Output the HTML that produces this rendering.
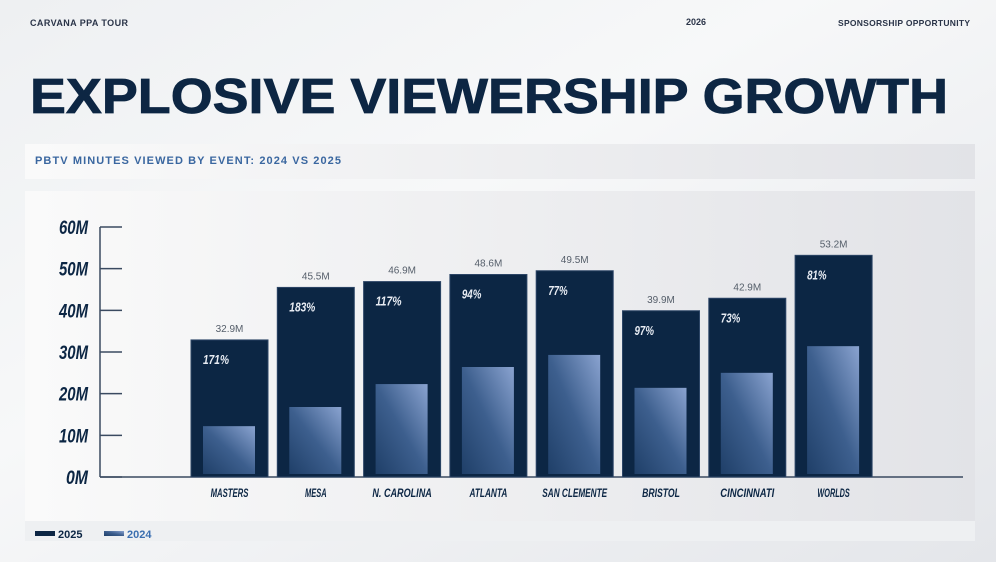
<!DOCTYPE html>
<html><head><meta charset="utf-8"><style>
html,body{margin:0;padding:0;width:996px;height:562px;overflow:hidden;background:#eceef1}
svg{display:block}
text{font-family:"Liberation Sans",sans-serif}
</style></head><body>
<svg id="chart" width="996" height="562" viewBox="0 0 996 562">
<defs>
<linearGradient id="bg" x1="0" y1="0" x2="1" y2="1">
<stop offset="0" stop-color="#eef0f2"/><stop offset="0.4" stop-color="#f7f8f9"/><stop offset="1" stop-color="#e4e6ea"/></linearGradient>
<linearGradient id="g24" x1="0" y1="1" x2="1" y2="0">
<stop offset="0" stop-color="#1f3f68"/><stop offset="0.5" stop-color="#3d5f8e"/><stop offset="1" stop-color="#8aa3d0"/></linearGradient>
<linearGradient id="panel" x1="0" y1="0" x2="1" y2="0">
<stop offset="0" stop-color="#fafafa"/><stop offset="1" stop-color="#e2e3e7"/></linearGradient>
</defs>
<rect width="996" height="562" fill="url(#bg)"/>
<text x="30" y="26" font-size="9" font-weight="bold" fill="#2a3448" textLength="98">CARVANA PPA TOUR</text>
<text x="686" y="25" font-size="9" font-weight="bold" fill="#2a3448">2026</text>
<text x="838" y="26" font-size="8.5" font-weight="bold" fill="#2a3448" textLength="132">SPONSORSHIP OPPORTUNITY</text>
<text x="30" y="113" font-size="49" font-weight="bold" fill="#0d2643" stroke="#0d2643" stroke-width="0.8" textLength="918" lengthAdjust="spacingAndGlyphs">EXPLOSIVE VIEWERSHIP GROWTH</text>
<rect x="25" y="144" width="950" height="35" fill="url(#panel)"/>
<text x="35" y="164" font-size="11" font-weight="bold" fill="#3a67a0" textLength="306">PBTV MINUTES VIEWED BY EVENT: 2024 VS 2025</text>
<rect x="25" y="191" width="950" height="330" fill="url(#panel)"/>
<rect x="25" y="521" width="950" height="20" fill="#eef0f2"/>
<g id="axis"></g>
<g id="bars"></g>
<rect x="35" y="531" width="20" height="5" fill="#0c2644"/>
<text x="58" y="538" font-size="11" font-weight="bold" fill="#0c2644">2025</text>
<rect x="104" y="531" width="20" height="5" fill="url(#g24)"/>
<text x="127" y="538" font-size="11" font-weight="bold" fill="#3b6fb0">2024</text>
</svg>
<script>
const categories=["MASTERS","MESA","N. CAROLINA","ATLANTA","SAN CLEMENTE","BRISTOL","CINCINNATI","WORLDS"];
const values2025=[32.9,45.5,46.9,48.6,49.5,39.9,42.9,53.2];
const values2024=[12.2,16.8,22.3,26.4,29.3,21.4,25.0,31.4];
const growthLabels=["171%","183%","117%","94%","77%","97%","73%","81%"];
const yTicks=[0,10,20,30,40,50,60];
const NS="http://www.w3.org/2000/svg";
const y0=477,pxPerM=250/60;
function yScale(v){return y0-v*pxPerM;}
function xScale(i){return 191+i*86.3;}
const bw=77;
function mk(tag,attrs,parent,txt){const e=document.createElementNS(NS,tag);for(const k in attrs)e.setAttribute(k,attrs[k]);if(txt!==undefined)e.textContent=txt;parent.appendChild(e);return e;}
const ax=document.getElementById('axis'),bars=document.getElementById('bars');
let l=mk('line',{x1:100,y1:yScale(60),x2:100,y2:y0,stroke:'#3a4a60','stroke-width':1.5},ax);


l=mk('line',{x1:100,y1:y0,x2:963,y2:y0,stroke:'#3a4a60','stroke-width':1.5},ax);


yTicks.forEach(t=>{
 const y=yScale(t);
 const tk=mk('line',{x1:100,y1:y,x2:122,y2:y,stroke:'#3a4a60','stroke-width':1.5},ax);
 
 
 const tx=mk('text',{x:88,y:y+7,'text-anchor':'end','font-size':19,'font-weight':'bold','font-style':'italic',fill:'#0c2644',textLength:t===0?22:29,lengthAdjust:'spacingAndGlyphs'},ax,t+'M');
 
 
});
categories.forEach((c,i)=>{
 const x=xScale(i),yt=yScale(values2025[i]);
 const b=mk('rect',{x:x,y:yt,width:bw,height:y0-yt,fill:'#0c2644',stroke:'#2c4566','stroke-width':1},bars);
 
 
 const yi=yScale(values2024[i]);
 const b2=mk('rect',{x:x+12,y:yi,width:52,height:(y0-3)-yi,fill:'url(#g24)'},bars);
 
 
 const v=mk('text',{x:x+bw/2,y:yt-8,'text-anchor':'middle','font-size':10,fill:'#555e6a'},bars,values2025[i].toFixed(1)+'M');
 
 
 const g=mk('text',{x:x+12,y:yt+24,'font-size':13,'font-weight':'bold','font-style':'italic',fill:'#e8ecf3',textLength:growthLabels[i].length*6.5,lengthAdjust:'spacingAndGlyphs'},bars,growthLabels[i]);
 
 
 const cl=mk('text',{x:x+bw/2,y:y0+20,'text-anchor':'middle','font-size':11.5,'font-weight':'bold','font-style':'italic',fill:'#0c2644',textLength:c.length*5.4,lengthAdjust:'spacingAndGlyphs'},bars,c);
 
 
});
</script>
</body></html>
